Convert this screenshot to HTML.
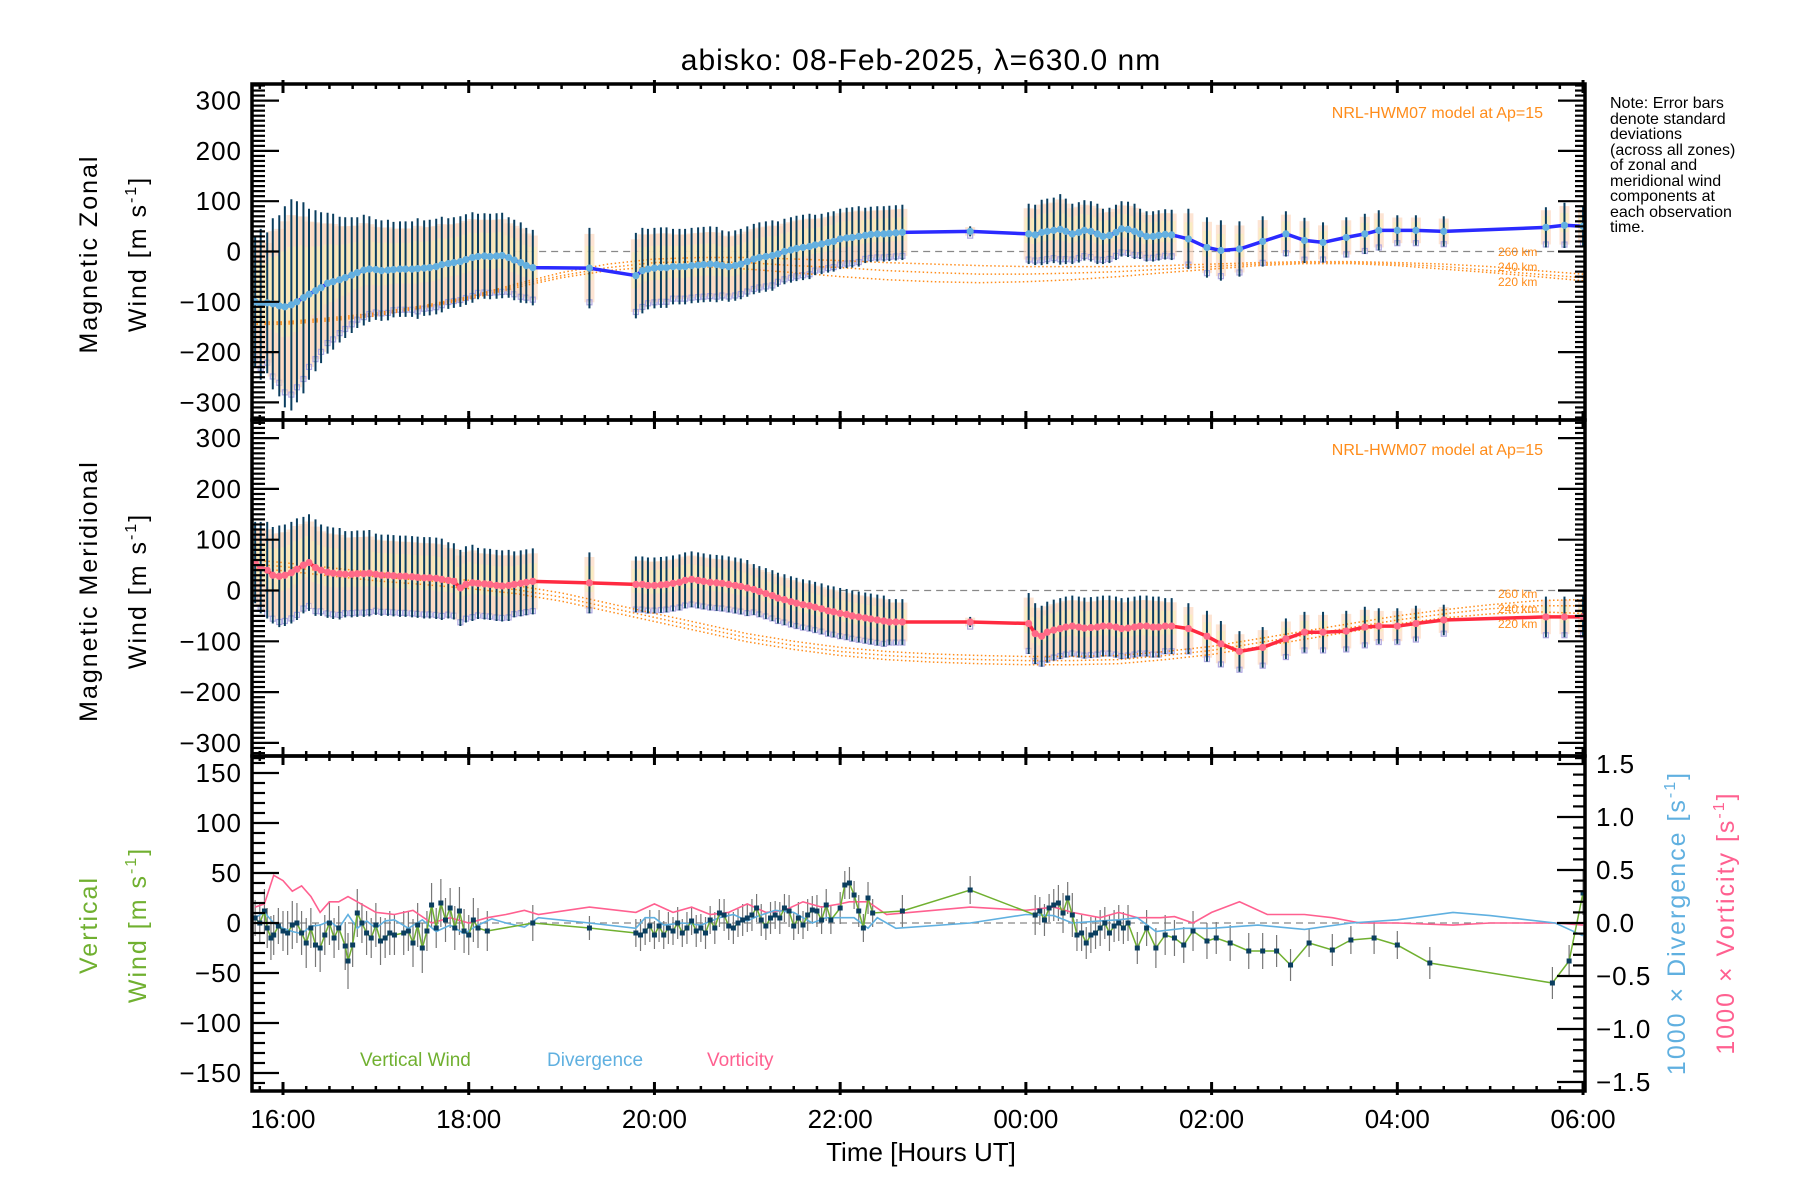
<!DOCTYPE html>
<html><head><meta charset="utf-8"><title>abisko winds</title>
<style>
html,body{margin:0;padding:0;background:#fff;}
svg{display:block;font-family:"Liberation Sans",sans-serif;}
</style></head>
<body>
<svg id="chart" width="1800" height="1200" viewBox="0 0 1800 1200" xmlns="http://www.w3.org/2000/svg">
<rect x="0" y="0" width="1800" height="1200" fill="#fff"/>
<text x="921" y="70" font-size="30" text-anchor="middle" letter-spacing="1">abisko: 08-Feb-2025, λ=630.0 nm</text>
<g id="marks"></g>
<g id="axes"></g>
<text transform="translate(97,254) rotate(-90)" font-size="25" text-anchor="middle" letter-spacing="2">Magnetic Zonal</text>
<text transform="translate(146,254) rotate(-90)" font-size="25" text-anchor="middle" letter-spacing="2">Wind [m s<tspan font-size="16" dy="-10">-1</tspan><tspan dy="10">]</tspan></text>
<text transform="translate(97,591) rotate(-90)" font-size="25" text-anchor="middle" letter-spacing="2">Magnetic Meridional</text>
<text transform="translate(146,591) rotate(-90)" font-size="25" text-anchor="middle" letter-spacing="2">Wind [m s<tspan font-size="16" dy="-10">-1</tspan><tspan dy="10">]</tspan></text>
<text transform="translate(97,925) rotate(-90)" font-size="25" text-anchor="middle" fill="#70b030" letter-spacing="2">Vertical</text>
<text transform="translate(146,925) rotate(-90)" font-size="25" text-anchor="middle" fill="#70b030" letter-spacing="2">Wind [m s<tspan font-size="16" dy="-10">-1</tspan><tspan dy="10">]</tspan></text>
<text transform="translate(1685,923) rotate(-90)" font-size="25" text-anchor="middle" fill="#60b0e0" letter-spacing="2">1000 × Divergence [s<tspan font-size="16" dy="-10">-1</tspan><tspan dy="10">]</tspan></text>
<text transform="translate(1734,923) rotate(-90)" font-size="25" text-anchor="middle" fill="#ff6090" letter-spacing="2">1000 × Vorticity [s<tspan font-size="16" dy="-10">-1</tspan><tspan dy="10">]</tspan></text>
<text x="921" y="1161" font-size="26" text-anchor="middle">Time [Hours UT]</text>
<g font-size="16" fill="#000">
<text x="1610" y="108">Note: Error bars</text>
<text x="1610" y="124">denote standard</text>
<text x="1610" y="139">deviations</text>
<text x="1610" y="155">(across all zones)</text>
<text x="1610" y="170">of zonal and</text>
<text x="1610" y="186">meridional wind</text>
<text x="1610" y="201">components at</text>
<text x="1610" y="217">each observation</text>
<text x="1610" y="232">time.</text>
</g>
<text x="1543" y="118" font-size="16" fill="#ff8c1a" text-anchor="end">NRL-HWM07 model at Ap=15</text>
<text x="1543" y="455" font-size="16" fill="#ff8c1a" text-anchor="end">NRL-HWM07 model at Ap=15</text>
<text x="360" y="1066" font-size="19" fill="#70b030">Vertical Wind</text>
<text x="547" y="1066" font-size="19" fill="#60b0e0">Divergence</text>
<text x="707" y="1066" font-size="19" fill="#ff6090">Vorticity</text>
</svg>
<script>
// ---- data (decimal UT hours; >24 means next day) ----
const obsT = [15.70,15.76,15.83,15.89,15.96,16.02,16.09,16.15,16.22,16.28,16.35,16.41,16.48,16.54,16.61,16.67,16.74,16.80,16.87,16.93,17.00,17.06,17.13,17.19,17.26,17.32,17.39,17.45,17.52,17.58,17.65,17.71,17.78,17.84,17.91,17.97,18.04,18.10,18.17,18.23,18.30,18.36,18.43,18.49,18.56,18.62,18.69,
19.30,
19.80,19.87,19.93,20.00,20.07,20.13,20.20,20.27,20.33,20.40,20.47,20.53,20.60,20.67,20.73,20.80,20.87,20.93,21.00,21.07,21.13,21.20,21.27,21.33,21.40,21.47,21.53,21.60,21.67,21.73,21.80,21.87,21.93,22.00,22.07,22.13,22.20,22.27,22.33,22.40,22.47,22.53,22.60,22.67,
23.40,
24.03,24.10,24.17,24.23,24.30,24.37,24.43,24.50,24.57,24.63,24.70,24.77,24.83,24.90,24.97,25.03,25.10,25.17,25.23,25.30,25.37,25.43,25.50,25.57,
25.75,25.95,26.10,26.30,26.55,26.80,27.00,27.20,27.45,27.65,27.80,28.00,28.20,28.50,29.60,29.80,30.00];
const zonalV = [-100,-105,-102,-104,-108,-110,-106,-100,-92,-85,-78,-72,-63,-60,-56,-52,-47,-42,-37,-35,-36,-38,-37,-36,-35,-35,-35,-34,-33,-32,-30,-26,-24,-22,-20,-16,-12,-10,-9,-10,-9,-8,-12,-17,-22,-28,-32,
-33,
-48,-38,-35,-33,-32,-32,-30,-30,-30,-28,-27,-26,-25,-26,-28,-30,-28,-25,-20,-15,-12,-10,-8,-5,0,3,6,8,10,13,15,18,20,25,27,28,30,32,34,35,35,36,37,38,
40,
35,33,38,40,42,44,40,35,38,42,40,35,30,32,38,45,44,40,35,30,30,32,34,33,
25,8,2,5,20,35,22,18,28,35,42,42,42,40,48,52,50];
const zonalErr = [130,150,140,170,180,200,210,200,190,170,160,150,140,135,125,120,115,110,110,105,100,100,100,95,95,95,95,100,95,95,95,95,90,90,90,90,90,85,85,85,85,85,80,80,80,75,75,
80,
85,85,80,80,80,80,75,75,75,75,75,75,75,75,70,70,70,70,70,70,70,70,70,65,65,65,65,65,65,60,60,60,60,60,60,60,60,55,55,55,55,55,55,55,
10,
60,60,65,65,65,70,65,60,60,60,60,60,55,55,55,55,55,55,50,50,50,50,50,50,
60,60,60,55,50,45,45,40,40,40,40,30,30,30,40,45,40];
const meridV = [55,45,40,30,28,30,35,42,50,55,45,40,36,34,33,32,32,33,33,34,32,30,30,29,28,28,27,26,25,25,24,22,20,18,5,12,15,14,13,12,10,9,10,12,14,16,18,
15,
12,12,10,10,11,12,14,16,20,22,20,18,16,15,14,12,10,8,5,2,-2,-6,-10,-15,-18,-22,-25,-28,-30,-33,-36,-40,-42,-45,-47,-50,-52,-54,-56,-58,-60,-62,-62,-62,
-62,
-65,-85,-90,-82,-78,-75,-72,-70,-72,-74,-73,-72,-70,-70,-72,-75,-74,-72,-70,-70,-72,-72,-70,-70,
-75,-90,-105,-120,-112,-95,-82,-82,-80,-72,-70,-70,-65,-58,-52,-52,-52];
const meridErr = [80,90,95,95,100,100,100,100,95,95,95,90,90,90,90,85,85,85,85,85,80,80,80,80,80,80,80,80,80,80,80,80,75,75,75,75,75,70,70,70,70,70,70,65,65,65,65,
60,
55,55,55,55,55,55,55,55,55,55,55,55,55,55,55,55,55,55,55,50,50,50,50,50,50,50,50,50,50,50,50,50,50,50,50,50,50,50,50,50,50,45,45,45,
10,
60,60,60,60,60,60,60,60,60,60,60,60,60,60,60,60,60,60,60,60,60,60,55,55,
50,50,45,40,40,40,40,40,40,40,35,35,35,30,40,40,40];
const modelT = [15.67,16,16.5,17,17.5,18,18.5,19,19.5,20,20.5,21,21.5,22,22.5,23,23.5,24,24.5,25,25.5,26,26.5,27,27.5,28,28.5,29,29.5,30];
const zonal260 = [-140,-140,-132,-122,-108,-90,-65,-42,-25,-15,-12,-12,-15,-18,-22,-25,-28,-30,-30,-30,-28,-25,-22,-20,-20,-22,-25,-30,-38,-45];
const zonal240 = [-142,-142,-135,-125,-110,-92,-68,-48,-32,-22,-20,-22,-28,-32,-38,-42,-45,-45,-43,-40,-35,-30,-25,-22,-22,-25,-30,-38,-45,-52];
const zonal220 = [-145,-145,-138,-128,-112,-95,-72,-52,-38,-30,-30,-35,-42,-50,-56,-60,-62,-60,-56,-50,-42,-35,-28,-24,-24,-28,-35,-42,-50,-58];
const merid260 = [60,55,45,35,28,20,10,-5,-25,-45,-65,-85,-100,-112,-120,-125,-128,-130,-130,-128,-120,-110,-95,-80,-65,-50,-38,-28,-20,-18];
const merid240 = [52,47,37,27,20,12,2,-13,-33,-53,-73,-93,-108,-120,-128,-133,-136,-138,-138,-136,-128,-118,-103,-88,-73,-58,-46,-36,-30,-30];
const merid220 = [44,39,29,19,12,4,-6,-21,-41,-61,-81,-101,-116,-128,-136,-141,-144,-146,-146,-144,-136,-126,-111,-96,-81,-66,-54,-46,-42,-45];
const vertT = [15.70,15.75,15.80,15.83,15.87,15.90,15.95,16.00,16.05,16.10,16.15,16.20,16.25,16.30,16.35,16.40,16.45,16.50,16.55,16.60,16.67,16.70,16.75,16.80,16.85,16.90,16.95,17.00,17.05,17.10,17.15,17.20,17.30,17.35,17.40,17.45,17.50,17.55,17.60,17.65,17.70,17.75,17.80,17.85,17.90,17.95,18.00,18.05,18.10,18.20,18.69,
19.30,19.80,19.85,19.90,19.95,20.00,20.05,20.10,20.15,20.20,20.25,20.30,20.35,20.40,20.45,20.50,20.55,20.60,20.65,20.70,20.75,20.80,20.85,20.90,20.95,21.00,21.05,21.10,21.15,21.20,21.25,21.30,21.35,21.40,21.45,21.50,21.55,21.60,21.65,21.70,21.75,21.80,21.85,21.90,22.00,22.05,22.10,22.15,22.20,22.25,22.30,22.35,22.67,23.40,
24.10,24.15,24.20,24.25,24.30,24.35,24.40,24.45,24.50,24.55,24.60,24.65,24.70,24.75,24.80,24.85,24.90,24.95,25.00,25.05,25.10,25.20,25.30,25.40,25.50,25.60,25.70,25.80,25.95,26.05,26.20,26.40,26.55,26.70,26.85,27.05,27.30,27.50,27.75,28.00,28.35,29.67,29.85,30.00];
const vertV = [5,0,12,-5,-15,-12,-3,-8,-10,-2,0,-10,-20,-5,-22,-25,-12,0,-15,-5,-23,-38,-22,10,0,-10,-15,-2,-18,-15,-10,-12,-10,-8,-20,-2,-25,-8,18,-5,20,3,15,-5,12,-8,-12,3,-5,-8,0,
-5,-10,-12,-8,-3,-12,-3,-12,-5,-8,0,-10,-5,2,-8,-5,-10,3,-5,10,8,-3,-5,0,3,5,8,15,3,-3,5,8,5,15,12,-3,5,-2,8,13,12,3,18,3,15,38,40,28,12,-5,25,10,12,33,
8,12,3,15,18,20,10,25,8,-12,-10,-20,-12,-10,-5,0,-10,-3,0,-5,0,-25,-5,-25,-12,-15,-22,-8,-18,-15,-20,-28,-28,-28,-42,-20,-27,-17,-15,-22,-40,-60,-38,30];
const vertErr = [18,20,22,20,22,20,18,20,22,24,20,22,25,20,22,24,20,22,20,22,24,28,22,24,20,22,20,22,24,20,22,20,22,20,24,22,25,20,22,20,24,22,20,22,24,22,20,22,20,20,18,
12,14,16,14,16,14,16,14,16,14,16,14,16,14,16,14,16,14,16,14,16,14,16,14,16,14,16,14,16,14,16,14,16,14,16,14,16,14,16,14,16,14,16,14,16,14,16,14,16,14,16,14,16,14,20,
14,16,14,16,18,20,16,22,16,18,16,18,16,18,16,18,16,18,16,18,16,18,20,20,18,18,20,18,16,18,18,18,16,16,14,16,14,16,14,16,16,16,22,16];
const divT = [15.7,15.8,15.9,16.0,16.1,16.2,16.3,16.4,16.5,16.6,16.7,16.8,16.9,17.0,17.1,17.2,17.35,17.5,17.65,17.8,17.95,18.1,18.25,18.4,18.6,18.75,19.3,19.8,19.9,20.0,20.1,20.3,20.5,20.7,20.85,21.0,21.1,21.3,21.5,21.7,21.85,22.0,22.15,22.3,22.4,22.6,23.4,24.0,24.3,24.5,24.8,25.0,25.2,25.4,25.7,26.0,26.5,27.0,27.5,28.0,28.6,29.0,29.7,30.0];
const divV = [0.05,0.1,0.0,-0.05,-0.08,-0.1,-0.03,-0.02,0.02,-0.05,0.08,-0.05,0.02,-0.05,0.02,0.03,-0.05,0.03,-0.08,-0.02,-0.1,-0.02,0.04,0.0,-0.04,0.05,0.0,-0.05,0.05,0.05,-0.02,0.0,-0.02,0.05,0.08,0.02,0.06,0.12,0.1,0.0,0.05,0.05,0.05,-0.05,0.05,-0.05,0.0,0.08,0.07,0.0,0.02,0.03,0.05,-0.08,-0.05,-0.05,-0.02,-0.06,0.0,0.03,0.1,0.07,0.0,-0.12];
const vortT = [15.7,15.8,15.9,16.0,16.1,16.2,16.3,16.4,16.5,16.6,16.7,16.8,16.9,17.0,17.2,17.4,17.6,17.8,18.0,18.2,18.4,18.6,18.75,19.3,19.8,20.0,20.2,20.4,20.6,20.8,21.0,21.2,21.4,21.6,21.8,22.0,22.1,22.3,22.5,23.4,24.0,24.3,24.5,24.8,25.0,25.2,25.45,25.6,25.8,26.0,26.3,26.6,27.0,27.3,27.6,28.0,28.6,29.0,29.7,30.0];
const vortV = [0.15,0.18,0.45,0.4,0.3,0.35,0.25,0.1,0.2,0.2,0.25,0.2,0.15,0.1,0.08,0.12,0.0,0.05,0.0,0.05,0.08,0.12,0.08,0.15,0.1,0.18,0.1,0.15,0.08,0.1,0.18,0.1,0.12,0.2,0.15,0.18,0.2,0.2,0.08,0.15,0.12,0.15,0.1,0.05,0.1,0.05,0.05,0.06,0.0,0.1,0.2,0.08,0.08,0.05,0.0,0.0,-0.02,0.0,0.0,-0.02];
const xTickLabels = ["16:00","18:00","20:00","22:00","00:00","02:00","04:00","06:00"];
const zTickLabels = ["300","200","100","0","−100","−200","−300"];
const vTickLabels = ["150","100","50","0","−50","−100","−150"];
const rTickLabels = ["1.5","1.0","0.5","0.0","−0.5","−1.0","−1.5"];

// ---- geometry ----
const L=252, R=1585;
const P1={top:84,bot:420}, P2={top:420,bot:756}, P3={top:756,bot:1091};
const xs=t=>283+(t-16)*92.86;
const y1=v=>251.5-v*0.503;
const y2=v=>590.5-v*0.508;
const y3=v=>923-v*1.0;
const yr=v=>923-v*106;
const NS="http://www.w3.org/2000/svg";
const marks=document.getElementById('marks'), axes=document.getElementById('axes');
function el(tag,attrs,parent){const e=document.createElementNS(NS,tag);for(const k in attrs)e.setAttribute(k,attrs[k]);(parent||marks).appendChild(e);return e;}
function clipRect(id,p){const c=el('clipPath',{id:id});el('rect',{x:L,y:p.top,width:R-L,height:p.bot-p.top},c);}
clipRect('c1',P1);clipRect('c2',P2);clipRect('c3',P3);
const g1=el('g',{'clip-path':'url(#c1)'});
const g2=el('g',{'clip-path':'url(#c2)'});
const g3=el('g',{'clip-path':'url(#c3)'});
function pts(T,V,fy){return T.map((t,i)=>xs(t).toFixed(1)+','+fy(V[i]).toFixed(1)).join(' ');}

function windPanel(g,V,E,fy,m260,m240,m220,lineCol,dotCol,zeroStart,name,shadeLow){
  const z=el('line',{x1:xs(zeroStart),x2:R,y1:fy(0),y2:fy(0),stroke:'#888','stroke-width':1.3,'stroke-dasharray':'7,5'},g);
  
  obsT.forEach((t,i)=>{
    const x=xs(t);
    const a=el('rect',{x:x-5,y:fy(V[i]+E[i]*0.85),width:10,height:Math.abs(fy(V[i]-E[i]*0.85)-fy(V[i]+E[i]*0.85)),fill:'#fcd6bc',opacity:0.65},g);
    
    const b=el('rect',{x:x-4,y:fy(V[i]+E[i]*0.55),width:8,height:Math.abs(fy(V[i]-E[i]*0.3)-fy(V[i]+E[i]*0.55)),fill:'#f6f2b8',opacity:0.6},g);
    
    const s=el('rect',{x:x-2.5,y:fy(V[i]+shadeLow*E[i])-2.5,width:5,height:5,fill:'none',stroke:'#b0a8e0','stroke-width':1.2},g);
    
  });
  [[m260,'260'],[m240,'240'],[m220,'220']].forEach(([arr,k])=>{
    const p=el('polyline',{points:pts(modelT,arr,fy),fill:'none',stroke:'#ff8c1a','stroke-width':1.5,'stroke-dasharray':'1.5,2.5'},g);
    
  });
  obsT.forEach((t,i)=>{
    const b=el('line',{x1:xs(t),x2:xs(t),y1:fy(V[i]+E[i]),y2:fy(V[i]-E[i]),stroke:'#0a3e5f','stroke-width':2},g);
    
  });
  const ln=el('polyline',{points:pts(obsT,V,fy),fill:'none',stroke:lineCol,'stroke-width':3.5},g);
  
  obsT.forEach((t,i)=>{
    const c=el('circle',{cx:xs(t),cy:fy(V[i]),r:3.6,fill:dotCol},g);
    
  });
}
windPanel(g1,zonalV,zonalErr,y1,zonal260,zonal240,zonal220,'#2a2aff','#64b0e0',18.5,'zonal',-0.85);
windPanel(g2,meridV,meridErr,y2,merid260,merid240,merid220,'#ff2a40','#ff6a88',22.0,'meridional',-0.9);

[['260 km',251],['240 km',266],['220 km',281]].forEach(([s,y])=>{const t=el('text',{x:1498,y:y+5,'font-size':12,fill:'#ff8c1a'},marks);t.textContent=s;});
[['260 km',598],['240 km',613],['220 km',628]].forEach(([s,y])=>{const t=el('text',{x:1498,y:y,'font-size':12,fill:'#ff8c1a'},marks);t.textContent=s;});

const z3=el('line',{x1:L,x2:R,y1:y3(0),y2:y3(0),stroke:'#888','stroke-width':1.3,'stroke-dasharray':'7,5'},g3);

vertT.forEach((t,i)=>{
  const b=el('line',{x1:xs(t),x2:xs(t),y1:y3(vertV[i]+vertErr[i]),y2:y3(vertV[i]-vertErr[i]),stroke:'#777','stroke-width':1.2},g3);
  
});
const vort=el('polyline',{points:pts(vortT,vortV,yr),fill:'none',stroke:'#ff6090','stroke-width':1.6},g3);

const div=el('polyline',{points:pts(divT,divV,yr),fill:'none',stroke:'#60b0e0','stroke-width':1.6},g3);

const vw=el('polyline',{points:pts(vertT,vertV,y3),fill:'none',stroke:'#70b030','stroke-width':1.5},g3);

vertT.forEach((t,i)=>{
  const s=el('rect',{x:xs(t)-2.5,y:y3(vertV[i])-2.5,width:5,height:5,fill:'#0a3e5f'},g3);
  
});

// ---- axes ----
function tick(x1,y1_,x2,y2_,w,name){const l=el('line',{x1:x1,y1:y1_,x2:x2,y2:y2_,stroke:'#000','stroke-width':w},axes);}
[P1,P2,P3].forEach((p)=>{
  const fr=el('rect',{x:L,y:p.top,width:R-L,height:p.bot-p.top,fill:'none',stroke:'#000','stroke-width':3.5},axes);
  
  for(let h=0;h<=57;h++){
    const t=15.75+h*0.25; if(t>30.01) break;
    const x=xs(t); const major=(h%8===1);
    const len=major?9:5;
    tick(x,p.bot-len,x,p.bot,major?3:2.5,'x-tick');
    tick(x,p.top,x,p.top+len,major?3:2.5,'x-tick');
    if(major){tick(x,p.bot,x,p.bot+4,3,'x-tick');tick(x,p.top-4,x,p.top,3,'x-tick');}
  }
});
function yAxis(fy,lim,labTop,majStep,minStep,labels,name,rightTicks){
  const n=Math.round(lim/minStep), r=Math.round(majStep/minStep);
  for(let k=-n;k<=n;k++){
    const v=k*minStep; const y=fy(v); const major=(k%r===0);
    tick(L,y,L+(major?27:13),y,2.2,name+'-tick');
    if(rightTicks) tick(R-(major?27:10),y,R,y,2.2,name+'-tick');
  }
  labels.forEach((s,i)=>{const v=labTop-i*majStep;const t=el('text',{x:L-10,y:fy(v)+9,'font-size':26,'text-anchor':'end','letter-spacing':'1'},axes);t.textContent=s;});
}
yAxis(y1,330,300,100,10,zTickLabels,'zonal-y',true);
yAxis(y2,330,300,100,10,zTickLabels,'meridional-y',true);
yAxis(y3,160,150,50,10,vTickLabels,'vertical-y',false);
for(let k=-15;k<=15;k++){const v=k/10;const y=yr(v);const major=(k%5===0);tick(R-(major?28:12),y,R,y,2.2,'right-y-tick');}
rTickLabels.forEach((s,i)=>{const v=1.5-i*0.5;const t=el('text',{x:1596,y:yr(v)+9,'font-size':26,'letter-spacing':'1'},axes);t.textContent=s;});
xTickLabels.forEach((s,i)=>{const t=el('text',{x:xs(16+2*i),y:1128,'font-size':26,'text-anchor':'middle'},axes);t.textContent=s;});
</script>
</body></html>
